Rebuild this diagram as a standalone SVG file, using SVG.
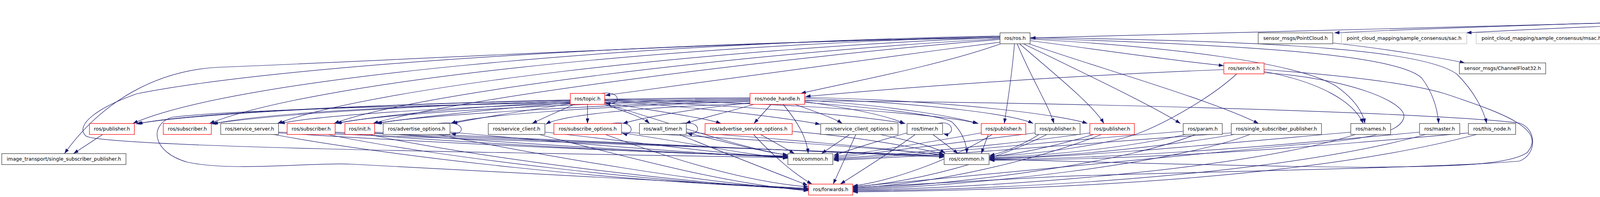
<svg xmlns="http://www.w3.org/2000/svg" width="7507" height="504" viewBox="0 0 7507 504">
<style>
.n rect{fill:#fff;stroke:#404040;stroke-width:1.3}
.n.r rect{stroke:#ff0000}
.n.g rect{stroke:#bfbfbf}
.n.root rect{fill:#bfbfbf;stroke:#404040}
text{font-family:"DejaVu Sans","Liberation Sans",sans-serif;font-size:12.6px;text-anchor:middle;fill:#000}
.e path{fill:none;stroke:#191970;stroke-width:1.2;marker-end:url(#a)}
</style>
<defs>
<marker id="a" markerWidth="13" markerHeight="9" refX="13" refY="4.5" orient="auto" markerUnits="userSpaceOnUse"><path d="M0,0 L13,4.5 L0,9 Z" fill="#191970"/></marker>
</defs>
<rect width="7507" height="504" fill="#fff"/>
<g id="connectors" class="e">
<path d="M5621,20 L2638,97"/>
<path d="M5621,18 C4800,35 3700,70 3416,84"/>
<path d="M5621,17 C4900,33 4000,70 3754,84"/>
<path d="M5621,16 C5000,33 4300,70 4112,84"/>
<path d="M5621,15 C5100,33 4650,70 4477,84"/>
<path d="M5621,24 C5300,40 5000,70 4843,84"/>
<path d="M5621,30 C5450,45 5300,70 5181,84"/>
<path d="M5665,34 L5482,84"/>
<path d="M5724,34 L5724,84"/>
<path d="M5783,34 L5970,84"/>
<path d="M5828,31 C6000,45 6150,70 6225,84"/>
<path d="M5828,28 C6100,40 6400,65 6505,84"/>
<path d="M5828,26 C6200,35 6650,65 6810,84"/>
<path d="M5828,22 C6500,35 6950,55 6970,95 C6985,120 6987,140 6987,161"/>
<path d="M5828,20 C6400,30 6900,70 7032,84"/>
<path d="M5828,19 C6500,25 7100,65 7255,84"/>
<path d="M5828,18 C6600,24 7200,60 7365,84"/>
<path d="M3412,110 C3550,125 3700,150 3750,161"/>
<path d="M6907,112 L6967,161"/>
<path d="M6883,112 L6854,239"/>
<path d="M6956,189 L6874,239"/>
<path d="M6985,189 L6988,239"/>
<path d="M7007,189 L7082,239"/>
<path d="M7136,112 L7141,161"/>
<path d="M2560,108 C2150,160 1700,225 1549,244"/>
<path d="M2562,112 C2400,170 2150,215 2050,239"/>
<path d="M2560,92 C1600,110 600,200 340,316"/>
<path d="M2560,94 C1700,115 800,210 536,316"/>
<path d="M2560,96 C1800,125 950,225 710,316"/>
<path d="M2560,99 C1900,135 1050,240 855,316"/>
<path d="M2560,101 C2000,145 1150,255 955,316"/>
<path d="M2597,112 C2590,200 2578,270 2571,316"/>
<path d="M2604,112 C2640,200 2685,270 2698,316"/>
<path d="M2610,112 C2700,190 2800,270 2826,316"/>
<path d="M2620,112 C2760,180 2950,270 3022,316"/>
<path d="M2634,112 C2800,170 3100,255 3222,316"/>
<path d="M2637,104 C2800,125 3000,155 3133,168"/>
<path d="M2637,100 C3000,120 3320,160 3420,220 C3470,255 3490,290 3494,316"/>
<path d="M2637,98 C3200,115 3580,140 3640,200 C3670,240 3680,280 3683,316"/>
<path d="M2637,96 C3300,105 3650,130 3730,190 C3780,240 3800,290 3806,316"/>
<path d="M2560,97 C1600,110 700,170 350,240 C250,275 190,320 220,348 C260,375 1200,390 2017,403"/>
<path d="M2560,94 C1800,110 900,160 560,172 C400,180 260,260 165,393"/>
<path d="M1504,267 L1504,316"/>
<path d="M1548,267 C1600,285 1645,300 1663,316"/>
<path d="M1548,262 C1650,280 1800,300 1846,316"/>
<path d="M1548,258 C1800,275 2000,300 2100,318"/>
<path d="M1548,256 C1900,270 2200,295 2318,316"/>
<path d="M1548,254 C2000,262 2400,290 2505,316"/>
<path d="M1540,239 C1592,230 1592,274 1550,263"/>
<path d="M1460,257 C1000,265 500,290 348,317"/>
<path d="M1460,259 C1100,268 700,292 541,317"/>
<path d="M1460,261 C1200,272 950,298 860,316"/>
<path d="M1460,263 C1250,280 1050,302 962,316"/>
<path d="M1460,265 C1350,283 1230,300 1158,316"/>
<path d="M1470,267 C1430,285 1390,302 1362,316"/>
<path d="M1548,265 C1700,310 1900,380 2017,397"/>
<path d="M1460,262 C1100,270 600,280 440,300 C380,320 390,390 480,415 C600,440 800,415 900,420 C1300,440 1800,470 2070,482"/>
<path d="M1974,267 L1930,316"/>
<path d="M2005,267 C2040,310 2065,350 2069,393"/>
<path d="M1930,267 C1850,290 1785,305 1755,316"/>
<path d="M1920,263 C1760,280 1650,300 1594,316"/>
<path d="M2035,267 C2100,290 2140,305 2156,316"/>
<path d="M2060,260 C2200,280 2280,300 2316,316"/>
<path d="M2060,256 C2300,272 2450,300 2503,316"/>
<path d="M2060,252 C2400,265 2600,295 2645,316"/>
<path d="M2060,249 C2450,258 2720,295 2784,316"/>
<path d="M1920,250 C1300,252 500,282 352,317"/>
<path d="M1920,252 C1300,256 700,283 545,317"/>
<path d="M1920,254 C1400,260 850,288 716,316"/>
<path d="M1920,256 C1400,264 950,293 862,316"/>
<path d="M1920,258 C1500,268 1050,298 965,316"/>
<path d="M1920,260 C1500,272 1200,298 1154,316"/>
<path d="M1920,265 C1600,275 1430,298 1397,318"/>
<path d="M2060,262 C2300,280 2430,300 2440,315 C2465,340 2475,370 2475,393"/>
<path d="M2060,258 C2800,262 3700,290 3890,315 C3935,330 3935,395 3890,412 C3700,430 3000,440 2700,452 C2500,462 2300,475 2183,480"/>
<path d="M3133,178 C2700,195 2300,225 2062,247"/>
<path d="M3236,183 C3380,210 3465,260 3490,316"/>
<path d="M3166,189 C3100,250 2990,310 2930,335 C2850,370 2650,395 2533,400"/>
<path d="M3236,186 C3450,200 3600,260 3594,300 C3585,340 3500,358 3300,372 C2900,410 2400,460 2183,478"/>
<path d="M3236,178 C3400,190 3600,210 3700,240 C3850,290 3960,330 3910,390 C3860,425 3700,425 3500,428 C3100,425 2700,410 2533,408"/>
<path d="M263,344 L188,393"/>
<path d="M713,340 C1100,365 1700,393 2017,399"/>
<path d="M700,344 C1000,400 1600,468 2070,482"/>
<path d="M713,338 C1300,360 2000,380 2417,398"/>
<path d="M858,340 C1200,365 1700,394 2017,400"/>
<path d="M858,338 C1400,360 2100,384 2417,400"/>
<path d="M840,344 C1100,400 1700,470 2070,484"/>
<path d="M958,340 C1300,365 1750,395 2017,401"/>
<path d="M958,338 C1500,360 2100,385 2417,402"/>
<path d="M945,344 C1200,400 1750,470 2070,485"/>
<path d="M1152,338 C1450,365 1800,396 2017,402"/>
<path d="M1120,344 C1400,400 1800,470 2070,486"/>
<path d="M1120,316 C1200,305 1190,350 1154,341"/>
<path d="M1395,338 C1600,360 1850,395 2017,404"/>
<path d="M1380,344 C1600,400 1850,470 2070,488"/>
<path d="M1591,340 C1750,362 1900,395 2017,405"/>
<path d="M1550,344 C1700,400 1900,465 2070,478"/>
<path d="M1591,338 C1900,355 2200,375 2417,396"/>
<path d="M1565,316 C1630,305 1625,350 1593,341"/>
<path d="M1757,340 C1850,360 1950,390 2017,396"/>
<path d="M1739,344 C1850,390 1980,440 2068,474"/>
<path d="M1757,338 C2000,355 2250,378 2417,397"/>
<path d="M1740,316 C1800,305 1795,350 1759,341"/>
<path d="M1947,344 L2034,393"/>
<path d="M1929,344 C1980,400 2040,450 2079,471"/>
<path d="M2028,336 C2200,350 2350,378 2417,395"/>
<path d="M2175,344 L2103,393"/>
<path d="M2191,344 L2133,471"/>
<path d="M2253,344 C2330,360 2390,375 2420,392"/>
<path d="M2322,340 C2250,360 2170,385 2134,398"/>
<path d="M2343,344 C2280,390 2200,440 2151,471"/>
<path d="M2388,344 L2453,393"/>
<path d="M2400,316 C2445,305 2445,350 2415,342"/>
<path d="M2512,340 C2400,360 2250,385 2134,401"/>
<path d="M2530,344 L2512,393"/>
<path d="M2540,344 C2450,400 2300,460 2183,476"/>
<path d="M2650,340 C2450,365 2250,390 2134,404"/>
<path d="M2660,344 C2620,370 2570,390 2533,398"/>
<path d="M2680,344 C2550,410 2350,465 2183,478"/>
<path d="M2790,340 C2600,368 2300,395 2134,406"/>
<path d="M2800,344 C2700,375 2600,395 2533,401"/>
<path d="M2820,344 C2650,410 2400,470 2183,481"/>
<path d="M3029,336 C2700,360 2400,395 2134,408"/>
<path d="M3035,344 C2900,375 2700,398 2533,403"/>
<path d="M3060,344 C2900,410 2500,470 2183,483"/>
<path d="M3152,340 C2800,365 2400,400 2134,410"/>
<path d="M3160,344 C2950,380 2700,402 2533,405"/>
<path d="M3200,344 C3000,420 2500,475 2183,485"/>
<path d="M3458,338 C3100,370 2800,400 2533,406"/>
<path d="M3470,344 C3200,430 2600,478 2183,487"/>
<path d="M3634,338 C3300,370 2900,405 2533,408"/>
<path d="M3650,344 C3300,440 2700,482 2183,489"/>
<path d="M3759,340 C3400,372 3000,408 2533,410"/>
<path d="M3780,344 C3400,445 2800,485 2183,491"/>
</g>
<g id="nodes">
<g id="n_root" class="n root"><rect x="5621" y="6" width="207" height="28"/><text x="5724.5" y="24">sac_inc_ground_removal.cpp</text></g>
<g id="n_ros" class="n"><rect x="2560" y="84" width="77" height="28"/><text x="2598.5" y="102">ros/ros.h</text></g>
<g id="n_pc" class="n"><rect x="3221" y="84" width="191" height="28"/><text x="3316.5" y="102">sensor_msgs/PointCloud.h</text></g>
<g id="n_sac" class="n g"><rect x="3434" y="84" width="321" height="28"/><text x="3594.5" y="102">point_cloud_mapping/sample_consensus/sac.h</text></g>
<g id="n_msac" class="n g"><rect x="3779" y="84" width="334" height="28"/><text x="3946" y="102">point_cloud_mapping/sample_consensus/msac.h</text></g>
<g id="n_ransac" class="n g"><rect x="4136" y="84" width="343" height="28"/><text x="4307.5" y="102">point_cloud_mapping/sample_consensus/ransac.h</text></g>
<g id="n_lmeds" class="n g"><rect x="4501" y="84" width="339" height="28"/><text x="4670.5" y="102">point_cloud_mapping/sample_consensus/lmeds.h</text></g>
<g id="n_line" class="n g"><rect x="4864" y="84" width="397" height="28"/><text x="5062.5" y="102">point_cloud_mapping/sample_consensus/sac_model_line.h</text></g>
<g id="n_areas" class="n g"><rect x="5285" y="84" width="276" height="28"/><text x="5423" y="102">point_cloud_mapping/geometry/areas.h</text></g>
<g id="n_angles" class="n g"><rect x="5583" y="84" width="282" height="28"/><text x="5724" y="102">point_cloud_mapping/geometry/angles.h</text></g>
<g id="n_point" class="n g"><rect x="5888" y="84" width="272" height="28"/><text x="6024" y="102">point_cloud_mapping/geometry/point.h</text></g>
<g id="n_dist" class="n g"><rect x="6183" y="84" width="300" height="28"/><text x="6333" y="102">point_cloud_mapping/geometry/distances.h</text></g>
<g id="n_near" class="n g"><rect x="6506" y="84" width="289" height="28"/><text x="6650.5" y="102">point_cloud_mapping/geometry/nearest.h</text></g>
<g id="n_mf" class="n"><rect x="6818" y="84" width="140" height="28"/><text x="6888" y="102">tf/message_filter.h</text></g>
<g id="n_mfs" class="n"><rect x="7032" y="84" width="204" height="28"/><text x="7134" y="102">message_filters/subscriber.h</text></g>
<g id="n_time" class="n g"><rect x="7258" y="84" width="89" height="28"/><text x="7302.5" y="102">sys/time.h</text></g>
<g id="n_thread" class="n g"><rect x="7370" y="84" width="132" height="28"/><text x="7436" y="102">boost/thread.hpp</text></g>
<g id="n_service" class="n r"><rect x="3133" y="161" width="103" height="28"/><text x="3184.5" y="179">ros/service.h</text></g>
<g id="n_chan" class="n"><rect x="3736" y="161" width="221" height="28"/><text x="3846.5" y="179">sensor_msgs/ChannelFloat32.h</text></g>
<g id="n_tl" class="n"><rect x="6902" y="161" width="163" height="28"/><text x="6983.5" y="179">tf/transform_listener.h</text></g>
<g id="n_sf" class="n r"><rect x="7089" y="161" width="110" height="28"/><text x="7144" y="179">simple_filter.h</text></g>
<g id="n_topic" class="n r"><rect x="1460" y="239" width="88" height="28"/><text x="1504" y="257">ros/topic.h</text></g>
<g id="n_nh" class="n r"><rect x="1920" y="239" width="140" height="28"/><text x="1990" y="257">ros/node_handle.h</text></g>
<g id="n_tfm" class="n"><rect x="6791" y="239" width="111" height="28"/><text x="6846.5" y="257">tf/tfMessage.h</text></g>
<g id="n_fg" class="n"><rect x="6926" y="239" width="126" height="28"/><text x="6989" y="257">tf/FrameGraph.h</text></g>
<g id="n_tf" class="n r"><rect x="7076" y="239" width="55" height="28"/><text x="7103.5" y="257">tf/tf.h</text></g>
<g id="n_pub1" class="n r"><rect x="229" y="316" width="115" height="28"/><text x="286.5" y="334">ros/publisher.h</text></g>
<g id="n_sub1" class="n r"><rect x="418" y="316" width="123" height="28"/><text x="479.5" y="334">ros/subscriber.h</text></g>
<g id="n_ss" class="n"><rect x="565" y="316" width="148" height="28"/><text x="639" y="334">ros/service_server.h</text></g>
<g id="n_sub2" class="n r"><rect x="735" y="316" width="123" height="28"/><text x="796.5" y="334">ros/subscriber.h</text></g>
<g id="n_init" class="n r"><rect x="883" y="316" width="76" height="28"/><text x="921" y="334">ros/init.h</text></g>
<g id="n_ao" class="n"><rect x="981" y="316" width="171" height="28"/><text x="1066.5" y="334">ros/advertise_options.h</text></g>
<g id="n_sc" class="n"><rect x="1250" y="316" width="145" height="28"/><text x="1322.5" y="334">ros/service_client.h</text></g>
<g id="n_so" class="n r"><rect x="1418" y="316" width="173" height="28"/><text x="1504.5" y="334">ros/subscribe_options.h</text></g>
<g id="n_wt" class="n"><rect x="1637" y="316" width="120" height="28"/><text x="1697" y="334">ros/wall_timer.h</text></g>
<g id="n_aso" class="n r"><rect x="1805" y="316" width="223" height="28"/><text x="1916.5" y="334">ros/advertise_service_options.h</text></g>
<g id="n_sco" class="n"><rect x="2101" y="316" width="198" height="28"/><text x="2200" y="334">ros/service_client_options.h</text></g>
<g id="n_timer" class="n"><rect x="2322" y="316" width="91" height="28"/><text x="2367.5" y="334">ros/timer.h</text></g>
<g id="n_pub2" class="n r"><rect x="2512" y="316" width="114" height="28"/><text x="2569" y="334">ros/publisher.h</text></g>
<g id="n_pub3" class="n"><rect x="2650" y="316" width="115" height="28"/><text x="2707.5" y="334">ros/publisher.h</text></g>
<g id="n_pub4" class="n r"><rect x="2790" y="316" width="114" height="28"/><text x="2847" y="334">ros/publisher.h</text></g>
<g id="n_param" class="n"><rect x="3029" y="316" width="100" height="28"/><text x="3079" y="334">ros/param.h</text></g>
<g id="n_ssp" class="n"><rect x="3152" y="316" width="231" height="28"/><text x="3267.5" y="334">ros/single_subscriber_publisher.h</text></g>
<g id="n_names" class="n"><rect x="3458" y="316" width="102" height="28"/><text x="3509" y="334">ros/names.h</text></g>
<g id="n_master" class="n"><rect x="3634" y="316" width="103" height="28"/><text x="3685.5" y="334">ros/master.h</text></g>
<g id="n_this" class="n"><rect x="3759" y="316" width="121" height="28"/><text x="3819.5" y="334">ros/this_node.h</text></g>
<g id="n_itssp" class="n"><rect x="4.5" y="393" width="318" height="28"/><text x="163.5" y="411">image_transport/single_subscriber_publisher.h</text></g>
<g id="n_comA" class="n"><rect x="2017" y="393" width="115" height="28"/><text x="2074.5" y="411">ros/common.h</text></g>
<g id="n_comB" class="n"><rect x="2417" y="393" width="115" height="28"/><text x="2474.5" y="411">ros/common.h</text></g>
<g id="n_fwd" class="n r"><rect x="2070" y="471" width="113" height="28"/><text x="2126.5" y="489">ros/forwards.h</text></g>
</g>
</svg>
